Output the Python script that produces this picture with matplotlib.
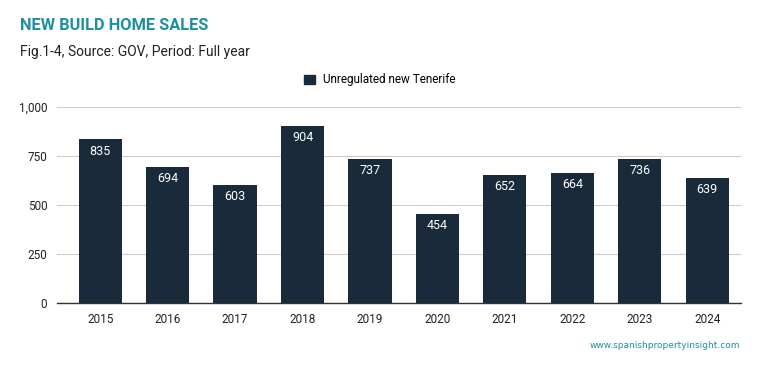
import matplotlib
matplotlib.use('Agg')
import matplotlib.pyplot as plt
from matplotlib.patches import Patch

plt.rcParams['font.family'] = ['Roboto', 'DejaVu Sans']

years = ['2015', '2016', '2017', '2018', '2019', '2020', '2021', '2022', '2023', '2024']
sales = [835, 694, 603, 904, 737, 454, 652, 664, 736, 639]
yticks = [0, 250, 500, 750, 1000]

bar_col = '#192b3b'
teal = '#1e8fa0'

fig = plt.figure(figsize=(7.59, 3.71), dpi=100)
ax = fig.add_axes([57/759, 1-303/371, 684/759, 196/371])

x = list(range(len(years)))
bars = ax.bar(x, sales, width=0.64, color=bar_col, zorder=3)
for xi, v in zip(x, sales):
    ax.text(xi, v - 27, str(v), ha='center', va='top', color='white', fontsize=9, zorder=4)

ax.set_xlim(-0.64, 9.5)
ax.set_ylim(0, 1000)
ax.set_xticks(x)
ax.set_xticklabels(years, fontsize=8.5, color='#222222')
ax.set_yticks(yticks)
ax.set_yticklabels([f'{t:,}' for t in yticks], fontsize=8.5, color='#222222')
ax.tick_params(length=0, pad=7)
ax.grid(axis='y', color='#cccccc', linewidth=0.8, zorder=0)
for s in ['top', 'right', 'left']:
    ax.spines[s].set_visible(False)
ax.spines['bottom'].set_color('#333333')
ax.spines['bottom'].set_linewidth(1)

fig.text(20/759, 1-26/371, 'NEW BUILD HOME SALES', fontsize=11.8, fontweight='bold', color=teal, va='center')
fig.text(20/759, 1-52/371, 'Fig.1-4, Source: GOV, Period: Full year', fontsize=10, color='#222222', va='center')

fig.legend(handles=[Patch(color=bar_col)], labels=['Unregulated new Tenerife'],
           loc='center', bbox_to_anchor=(380/759, 1-80/371), frameon=False,
           fontsize=8.5, handlelength=0.9, handleheight=0.9, handletextpad=0.7)

fig.text(740/759, 1-346/371, 'www.spanishpropertyinsight.com', fontsize=6.5, color=teal,
         ha='right', va='center', family='DejaVu Sans')

fig.savefig('out.png', dpi=100)
